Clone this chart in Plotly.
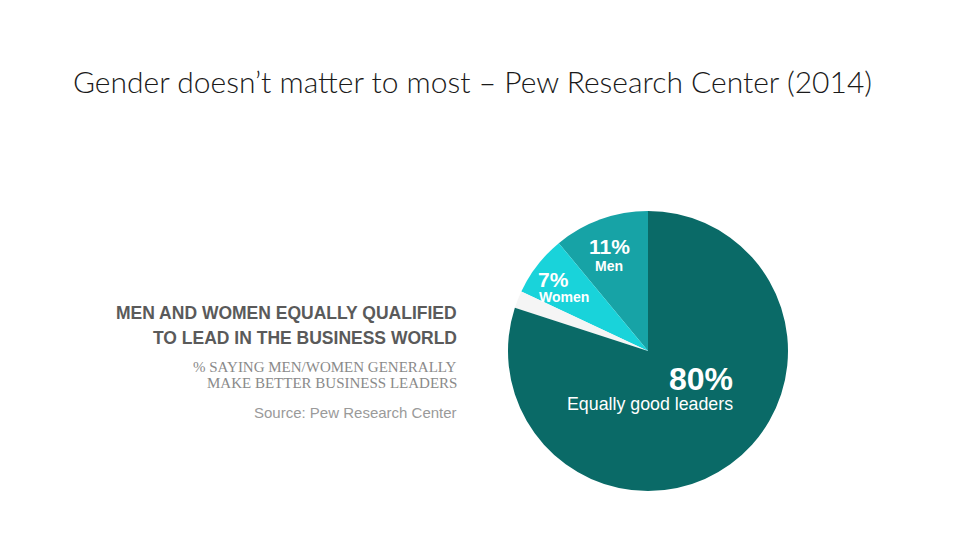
import plotly.graph_objects as go

# Pew Research Center (2014): which gender makes better business leaders
labels = ["Men", "Women", "No answer", "Equally good leaders"]
values = [11, 7, 2, 80]
colors = ["#17a3a6", "#19d3da", "#f5f5f5", "#0a6a67"]

# the page body adds an 8px margin, so reference pixel positions are shifted
OX, OY = 8, 8
W, H = 960, 540


def px(x, y):
    return (x - OX) / W, 1 - (y - OY) / H


# pie centre and radius in reference pixels
cx, cy, r = 648, 351, 140
x0, y0 = px(cx - r, cy + r)
x1, y1 = px(cx + r, cy - r)

fig = go.Figure()
fig.add_trace(go.Pie(
    labels=labels,
    values=values,
    sort=False,
    direction="counterclockwise",
    rotation=-values[0] * 3.6,
    marker=dict(colors=colors, line=dict(width=0)),
    textinfo="none",
    hoverinfo="label+percent",
    showlegend=False,
    domain=dict(x=[x0, x1], y=[y0, y1]),
))

sans = "Liberation Sans"
ann = [
    # slice labels
    (609, 246, "<b>11%</b>", 21),
    (609, 266, "<b>Men</b>", 14),
    (553, 279, "<b>7%</b>", 21),
    (564, 297, "<b>Women</b>", 14),
    (701, 379, "<b>80%</b>", 32),
    (650, 404, "Equally good leaders", 17.8),
]
for x, y, txt, size in ann:
    ax, ay = px(x, y)
    fig.add_annotation(
        x=ax, y=ay, xref="paper", yref="paper",
        text=txt, showarrow=False, xanchor="center", yanchor="middle",
        font=dict(family=sans, size=size, color="white"),
    )

# left-hand chart heading, right aligned
left = [
    (313, "<b>MEN AND WOMEN EQUALLY QUALIFIED</b>", sans, 17.5, "#5a5a5a"),
    (338, "<b>TO LEAD IN THE BUSINESS WORLD</b>", sans, 17.5, "#5a5a5a"),
    (367, "% SAYING MEN/WOMEN GENERALLY", "Liberation Serif", 15, "#8a8a8a"),
    (383, "MAKE BETTER BUSINESS LEADERS", "Liberation Serif", 15, "#8a8a8a"),
    (412, "Source: Pew Research Center", sans, 15, "#9a9a9a"),
]
for y, txt, fam, size, col in left:
    ax, ay = px(459, y)
    fig.add_annotation(
        x=ax, y=ay, xref="paper", yref="paper",
        text=txt, showarrow=False, xanchor="right", yanchor="middle",
        font=dict(family=fam, size=size, color=col),
    )

tx, ty = px(73, 82)
fig.update_layout(
    width=W, height=H,
    margin=dict(l=0, r=0, t=0, b=0),
    paper_bgcolor="white",
    title=dict(
        text="Gender doesn\u2019t matter to most \u2013 Pew Research Center (2014)",
        x=tx, xanchor="left", y=ty, yanchor="middle",
        font=dict(family="Lato", size=30, color="#1a1a1a", weight=300),
    ),
)

fig.write_html("out.html")
